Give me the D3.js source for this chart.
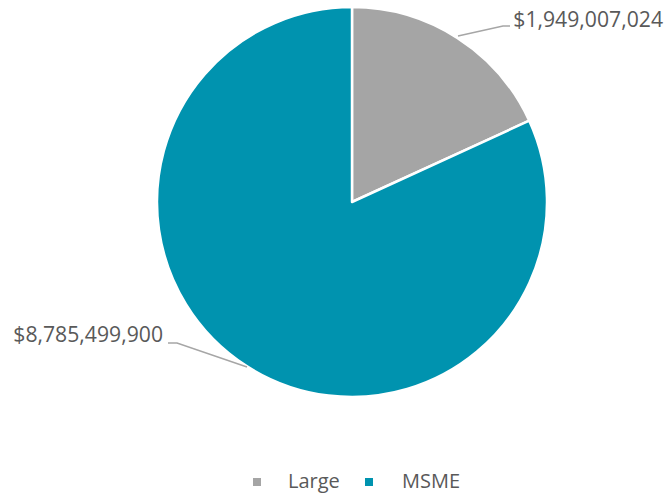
<!DOCTYPE html>
<html>
<head>
<meta charset="utf-8">
<script src="https://cdn.jsdelivr.net/npm/d3@7"></script>
<style>
  html, body { margin: 0; padding: 0; background: #fff; }
  svg { display: block; }
  text { font-family: "Open Sans", sans-serif; fill: #595959; }
</style>
</head>
<body>
<svg id="chart" width="665" height="494"></svg>
<script>
const categories = ["Large", "MSME"];
const values = [1949007024, 8785499900];
const labels = ["$1,949,007,024", "$8,785,499,900"];
const colors = ["#A5A5A5", "#0093AF"];

const svg = d3.select("#chart");
const cx = 352, cy = 202, r = 195;

const pie = d3.pie().sort(null).value(d => d.value);
const arcs = pie(categories.map((c, i) => ({ name: c, value: values[i], label: labels[i], color: colors[i] })));
const arc = d3.arc().innerRadius(0).outerRadius(r);

const g = svg.append("g").attr("transform", `translate(${cx},${cy})`);
g.selectAll("path.slice")
  .data(arcs)
  .join("path")
  .attr("class", "slice")
  .attr("d", arc)
  .attr("fill", d => d.data.color)
  .attr("stroke", "#fff")
  .attr("stroke-width", 2.5)
  .attr("stroke-linejoin", "round");

// Data labels with leader lines
const labelPos = [
  { text: [663, 27], anchor: "end", line: [[106, -166], [151, -176], [158, -176]] },
  { text: [163, 342], anchor: "end", line: [[-105, 165], [-175, 141], [-184, 141]] }
];
arcs.forEach((a, i) => {
  const p = labelPos[i];
  g.append("polyline")
    .attr("points", p.line.map(q => q.join(",")).join(" "))
    .attr("fill", "none")
    .attr("stroke", "#A6A6A6")
    .attr("stroke-width", 1.5);
  svg.append("text")
    .attr("x", p.text[0])
    .attr("y", p.text[1])
    .attr("text-anchor", p.anchor)
    .attr("font-size", 21.2)
    .text(a.data.label);
});

// Legend
const legendItems = [
  { sq: 253, tx: 288 },
  { sq: 365, tx: 402 }
];
const legend = svg.append("g");
categories.forEach((c, i) => {
  legend.append("rect")
    .attr("x", legendItems[i].sq)
    .attr("y", 478)
    .attr("width", 8)
    .attr("height", 8)
    .attr("fill", colors[i]);
  legend.append("text")
    .attr("x", legendItems[i].tx)
    .attr("y", 488)
    .attr("font-size", 20)
    .text(c);
});
</script>
</body>
</html>
